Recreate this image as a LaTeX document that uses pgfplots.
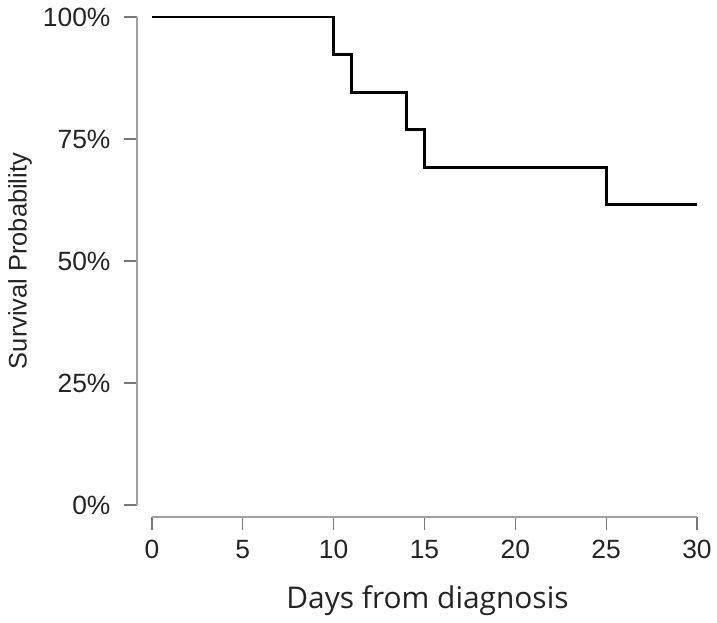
\documentclass[border=0pt]{standalone}
\usepackage{pgfplots}
\pgfplotsset{compat=1.18}
\usepackage{fontspec}
\setmainfont{Liberation Sans}
\newfontfamily\labfont{Open Sans}
\definecolor{axgray}{RGB}{160,160,160}
\definecolor{tkgray}{RGB}{120,120,120}
\definecolor{txt}{RGB}{35,35,35}
\begin{document}
\begin{tikzpicture}
\begin{axis}[
  at={(152bp,-17bp)}, anchor=north west,
  scale only axis, width=545bp, height=488bp,
  xmin=0, xmax=30, ymin=0, ymax=1,
  axis lines=left,
  axis line style={-, draw=axgray, line width=1.2bp},
  x axis line style={yshift=-12bp},
  y axis line style={xshift=-15bp},
  tick align=outside, major tick length=13bp,
  xtick={0,5,10,15,20,25,30},
  xticklabels={0,5,10,15,20,25,30},
  ytick={0,0.25,0.5,0.75,1},
  yticklabels={0\%,25\%,50\%,75\%,100\%},
  xtick style={draw=tkgray, line width=1.2bp, yshift=-12bp},
  ytick style={draw=tkgray, line width=1.2bp, xshift=-15bp},
  xticklabel style={font=\fontsize{26.5}{30}\selectfont, text=txt, yshift=-19bp},
  yticklabel style={font=\fontsize{26.5}{30}\selectfont, text=txt, xshift=-25bp},
  xlabel={Days from diagnosis},
  xlabel style={font=\labfont\fontsize{30}{34}\selectfont, text=txt, at={(axis description cs:0.5055,-0.195)}, anchor=center},
  ylabel={Survival Probability},
  ylabel style={font=\fontsize{25.5}{30}\selectfont, text=txt, at={(axis description cs:-0.242,0.50)}, anchor=center, rotate=0},
  clip=false,
]
\addplot[const plot, black, line width=2.8bp] coordinates {
  (0,1) (10,0.923) (11,0.846) (14,0.769) (15,0.692) (25,0.615) (30,0.615)
};
\end{axis}
\pgfresetboundingbox
\path (0,0) rectangle (717bp,-623bp);
\end{tikzpicture}
\end{document}
